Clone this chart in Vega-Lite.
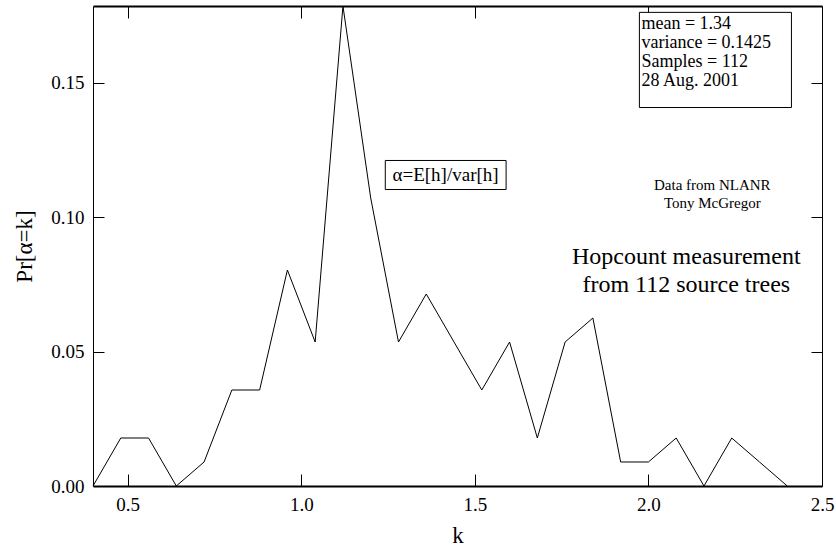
{
  "$schema": "https://vega.github.io/schema/vega-lite/v6.json",
  "autosize": "none",
  "width": 729,
  "height": 480,
  "padding": {"left": 93, "top": 6, "right": 14, "bottom": 65},
  "background": "white",
  "config": {
    "view": {"stroke": null},
    "font": "Liberation Serif, Times New Roman, serif",
    "text": {"font": "Liberation Serif, Times New Roman, serif"},
    "axis": {
      "labelFont": "Liberation Serif, Times New Roman, serif",
      "labelFontSize": 19,
      "labelColor": "black",
      "titleFont": "Liberation Serif, Times New Roman, serif",
      "titleFontSize": 23,
      "titleFontWeight": "normal",
      "titleColor": "black",
      "domainColor": "black",
      "tickColor": "black",
      "grid": false,
      "labelFlush": false,
      "labelOverlap": false
    }
  },
  "datasets": {
    "dist": [
      {"k": 0.40, "p": 0.0},
      {"k": 0.48, "p": 0.017857},
      {"k": 0.56, "p": 0.017857},
      {"k": 0.64, "p": 0.0},
      {"k": 0.72, "p": 0.008929},
      {"k": 0.80, "p": 0.035714},
      {"k": 0.88, "p": 0.035714},
      {"k": 0.96, "p": 0.080357},
      {"k": 1.04, "p": 0.053571},
      {"k": 1.12, "p": 0.178571},
      {"k": 1.20, "p": 0.107143},
      {"k": 1.28, "p": 0.053571},
      {"k": 1.36, "p": 0.071429},
      {"k": 1.44, "p": 0.053571},
      {"k": 1.52, "p": 0.035714},
      {"k": 1.60, "p": 0.053571},
      {"k": 1.68, "p": 0.017857},
      {"k": 1.76, "p": 0.053571},
      {"k": 1.84, "p": 0.0625},
      {"k": 1.92, "p": 0.008929},
      {"k": 2.00, "p": 0.008929},
      {"k": 2.08, "p": 0.017857},
      {"k": 2.16, "p": 0.0},
      {"k": 2.24, "p": 0.017857},
      {"k": 2.32, "p": 0.008929},
      {"k": 2.40, "p": 0.0}
    ],
    "boxes": [
      {"x1": 1.974, "x2": 2.412, "y1": 0.1762, "y2": 0.1408},
      {"x1": 1.242, "x2": 1.590, "y1": 0.1211, "y2": 0.1103}
    ],
    "stats": [
      {"x": 1.980, "y": 0.17176, "label": "mean = 1.34"},
      {"x": 1.980, "y": 0.16468, "label": "variance = 0.1425"},
      {"x": 1.980, "y": 0.1576, "label": "Samples = 112"},
      {"x": 1.980, "y": 0.15052, "label": "28 Aug. 2001"}
    ],
    "alpha": [
      {"x": 1.4156, "y": 0.1157, "label": "α=E[h]/var[h]"}
    ],
    "small": [
      {"x": 2.184, "y": 0.1121, "label": "Data from NLANR"},
      {"x": 2.184, "y": 0.1054, "label": "Tony McGregor"}
    ],
    "big": [
      {"x": 2.109, "y": 0.0853, "label": "Hopcount measurement"},
      {"x": 2.109, "y": 0.0749, "label": "from 112 source trees"}
    ]
  },
  "resolve": {"axis": {"x": "independent", "y": "independent"}},
  "layer": [
    {
      "data": {"name": "dist"},
      "mark": {"type": "line", "color": "black", "strokeWidth": 1},
      "encoding": {
        "x": {
          "field": "k", "type": "quantitative",
          "scale": {"domain": [0.4, 2.5], "nice": false, "zero": false},
          "axis": {
            "orient": "bottom", "title": "k",
            "values": [0.5, 1.0, 1.5, 2.0, 2.5], "format": ".1f",
            "tickSize": -12, "labelPadding": 21, "domainWidth": 2,
            "titlePadding": 10
          }
        },
        "y": {
          "field": "p", "type": "quantitative",
          "scale": {"domain": [0, 0.178571], "nice": false, "zero": false},
          "axis": {
            "orient": "left", "title": "Pr[α=k]",
            "values": [0, 0.05, 0.1, 0.15], "format": ".2f",
            "tickSize": -11, "labelPadding": 20, "domainWidth": 1,
            "titlePadding": 14
          }
        }
      }
    },
    {
      "data": {"name": "dist"},
      "mark": {"type": "line", "opacity": 0},
      "encoding": {
        "x": {
          "field": "k", "type": "quantitative",
          "scale": {"domain": [0.4, 2.5], "nice": false, "zero": false},
          "axis": {
            "orient": "top", "title": null, "labels": false,
            "values": [0.5, 1.0, 1.5, 2.0, 2.5],
            "tickSize": -12, "domainWidth": 2
          }
        },
        "y": {
          "field": "p", "type": "quantitative",
          "scale": {"domain": [0, 0.178571], "nice": false, "zero": false},
          "axis": {
            "orient": "right", "title": null, "labels": false,
            "values": [0, 0.05, 0.1, 0.15],
            "tickSize": -11, "domainWidth": 1
          }
        }
      }
    },
    {
      "data": {"name": "boxes"},
      "mark": {"type": "rect", "fill": "white", "stroke": "black", "strokeWidth": 1},
      "encoding": {
        "x": {"field": "x1", "type": "quantitative", "scale": {"domain": [0.4, 2.5], "nice": false, "zero": false}, "axis": null},
        "x2": {"field": "x2"},
        "y": {"field": "y1", "type": "quantitative", "scale": {"domain": [0, 0.178571], "nice": false, "zero": false}, "axis": null},
        "y2": {"field": "y2"}
      }
    },
    {
      "data": {"name": "stats"},
      "mark": {"type": "text", "align": "left", "baseline": "middle", "fontSize": 18, "font": "Liberation Serif, Times New Roman, serif", "color": "black"},
      "encoding": {
        "x": {"field": "x", "type": "quantitative", "scale": {"domain": [0.4, 2.5], "nice": false, "zero": false}, "axis": null},
        "y": {"field": "y", "type": "quantitative", "scale": {"domain": [0, 0.178571], "nice": false, "zero": false}, "axis": null},
        "text": {"field": "label"}
      }
    },
    {
      "data": {"name": "alpha"},
      "mark": {"type": "text", "align": "center", "baseline": "middle", "fontSize": 19, "font": "Liberation Serif, Times New Roman, serif", "color": "black"},
      "encoding": {
        "x": {"field": "x", "type": "quantitative", "scale": {"domain": [0.4, 2.5], "nice": false, "zero": false}, "axis": null},
        "y": {"field": "y", "type": "quantitative", "scale": {"domain": [0, 0.178571], "nice": false, "zero": false}, "axis": null},
        "text": {"field": "label"}
      }
    },
    {
      "data": {"name": "small"},
      "mark": {"type": "text", "align": "center", "baseline": "middle", "fontSize": 15, "font": "Liberation Serif, Times New Roman, serif", "color": "black"},
      "encoding": {
        "x": {"field": "x", "type": "quantitative", "scale": {"domain": [0.4, 2.5], "nice": false, "zero": false}, "axis": null},
        "y": {"field": "y", "type": "quantitative", "scale": {"domain": [0, 0.178571], "nice": false, "zero": false}, "axis": null},
        "text": {"field": "label"}
      }
    },
    {
      "data": {"name": "big"},
      "mark": {"type": "text", "align": "center", "baseline": "middle", "fontSize": 24, "font": "Liberation Serif, Times New Roman, serif", "color": "black"},
      "encoding": {
        "x": {"field": "x", "type": "quantitative", "scale": {"domain": [0.4, 2.5], "nice": false, "zero": false}, "axis": null},
        "y": {"field": "y", "type": "quantitative", "scale": {"domain": [0, 0.178571], "nice": false, "zero": false}, "axis": null},
        "text": {"field": "label"}
      }
    }
  ]
}
